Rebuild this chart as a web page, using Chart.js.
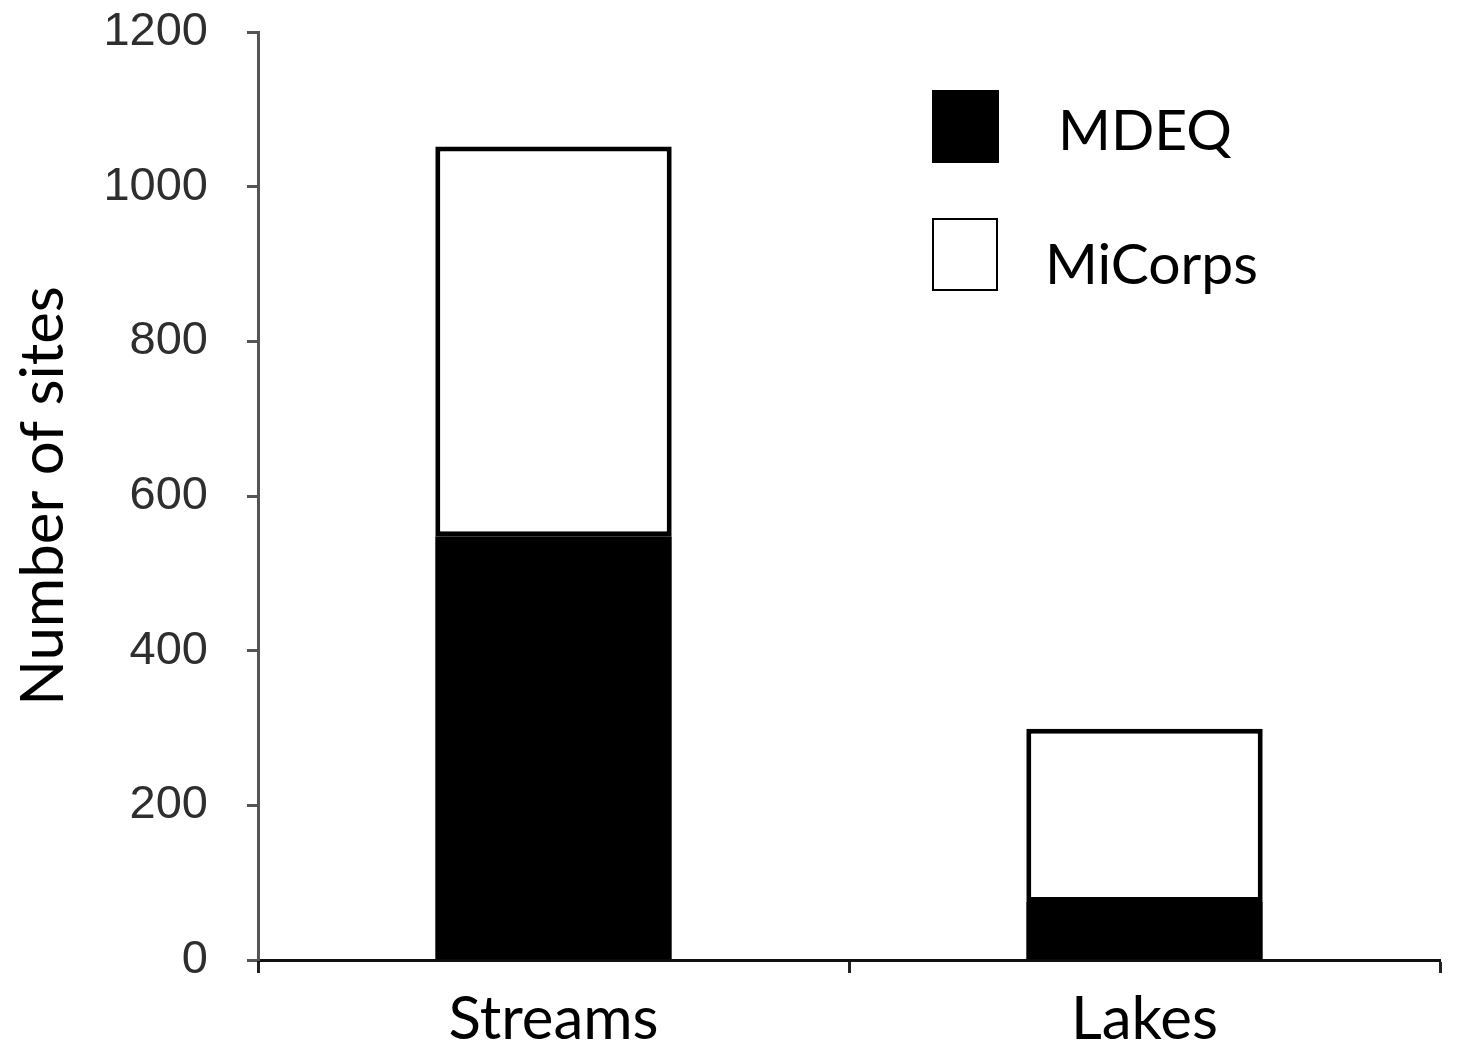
<!DOCTYPE html>
<html><head><meta charset="utf-8">
<script src="https://cdn.jsdelivr.net/npm/chart.js@4.4.1/dist/chart.umd.min.js"></script>
<style>
html,body{margin:0;padding:0;background:#fff;}
#wrap{position:relative;width:1466px;height:1049px;background:#fff;}
#c{position:absolute;left:0;top:0;}
.sw{position:absolute;box-sizing:border-box;}
.lt{position:absolute;font-family:Lato, "Open Sans", sans-serif;font-size:57px;color:#000;line-height:1;white-space:nowrap;transform:translateY(-50%);}
</style></head>
<body><div id="wrap"><canvas id="c" width="1466" height="1049"></canvas><div id="legend"></div></div>
<script>
const categories = ['Streams', 'Lakes'];
const seriesNames = ['MDEQ', 'MiCorps'];
const mdeqValues = [548, 75];
const micorpsValues = [504, 224];
const yTickValues = [0, 200, 400, 600, 800, 1000, 1200];
const yAxisTitle = 'Number of sites';

const seriesFill = ['#000000', '#ffffff'];

const chart = new Chart(document.getElementById('c'), {
  type: 'bar',
  data: {
    labels: categories,
    datasets: [
      { label: seriesNames[0], data: mdeqValues, backgroundColor: seriesFill[0], borderColor: '#000', borderWidth: 0, borderSkipped: false, barPercentage: 0.4, categoryPercentage: 1.0 },
      { label: seriesNames[1], data: micorpsValues, backgroundColor: seriesFill[1], borderColor: '#000', borderWidth: 5, borderSkipped: false, barPercentage: 0.4, categoryPercentage: 1.0 }
    ]
  },
  options: {
    responsive: false,
    animation: false,
    layout: { padding: { left: 0, top: 32, right: 26, bottom: 0 } },
    plugins: { legend: { display: false }, tooltip: { enabled: false } },
    scales: {
      x: {
        stacked: true,
        offset: true,
        afterFit: s => { s.height = 89; s.paddingLeft = 0; s.paddingRight = 0; },
        border: { display: true, color: '#111', width: 3 },
        grid: { display: true, offset: true, drawOnChartArea: false, drawTicks: true, tickLength: 13, tickColor: '#222', tickWidth: 3 },
        ticks: { padding: 11, color: '#000', font: { family: 'Lato', size: 60 } }
      },
      y: {
        stacked: true,
        min: 0, max: 1200,
        afterFit: s => { s.width = 258; s.paddingTop = 0; s.paddingBottom = 0; },
        afterBuildTicks: s => { s.ticks = yTickValues.map(v => ({ value: v })); },
        border: { display: true, color: '#555', width: 3 },
        grid: { display: true, drawOnChartArea: false, drawTicks: true, tickLength: 11, tickColor: '#555', tickWidth: 3 },
        ticks: { padding: 39, color: '#2e2e2e', font: { family: 'Liberation Sans', size: 47 }, callback: v => String(v) },
        title: { display: true, text: yAxisTitle, color: '#000', padding: { top: 8, bottom: 0 }, font: { family: 'Lato', size: 60 } }
      }
    }
  }
});

// HTML legend built from the datasets
const legendPos = [
  { sx: 932, sy: 90, sw: 67, sh: 73, tx: 1058, ty: 128 },
  { sx: 932, sy: 218, sw: 66, sh: 73, tx: 1045, ty: 262 }
];
const legend = document.getElementById('legend');
chart.data.datasets.forEach((ds, i) => {
  const p = legendPos[i];
  const sw = document.createElement('div');
  sw.className = 'sw';
  sw.style.cssText = `left:${p.sx}px;top:${p.sy}px;width:${p.sw}px;height:${p.sh}px;background:${ds.backgroundColor};border:2px solid #000;`;
  legend.appendChild(sw);
  const t = document.createElement('div');
  t.className = 'lt';
  t.style.left = p.tx + 'px';
  t.style.top = p.ty + 'px';
  t.textContent = ds.label;
  legend.appendChild(t);
});
</script>
</body></html>
